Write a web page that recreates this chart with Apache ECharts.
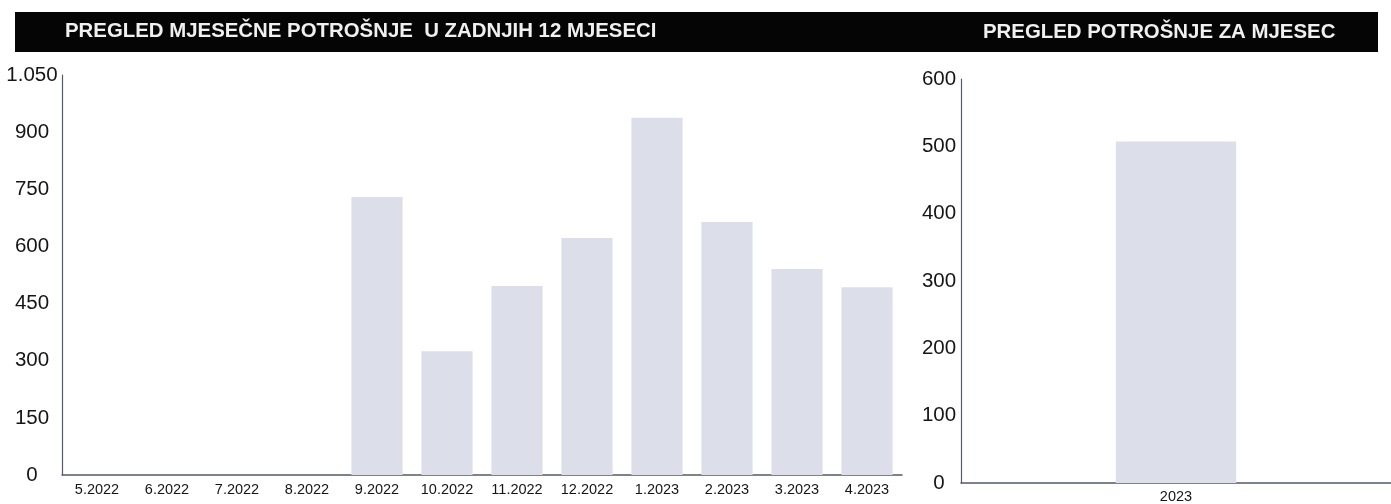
<!DOCTYPE html>
<html>
<head>
<meta charset="utf-8">
<script src="https://cdn.jsdelivr.net/npm/echarts@6/dist/echarts.min.js"></script>
<style>
html,body{margin:0;padding:0;background:#ffffff;}
#chart{width:1391px;height:504px;}
</style>
</head>
<body>
<div id="chart"></div>
<script>
var leftTitle = 'PREGLED MJESEČNE POTROŠNJE  U ZADNJIH 12 MJESECI';
var rightTitle = 'PREGLED POTROŠNJE ZA MJESEC';
var months = ['5.2022','6.2022','7.2022','8.2022','9.2022','10.2022','11.2022','12.2022','1.2023','2.2023','3.2023','4.2023'];
var monthlyValues = [0,0,0,0,730,325,496,622,938,664,541,493];
var periods = ['2023'];
var periodValues = [507];
var leftAxisMax = 1050, leftAxisStep = 150;
var rightAxisMax = 600, rightAxisStep = 100;

var FONT = '"Liberation Sans", Arial, sans-serif';
var barColor = '#dcdfea';
var axisColor = '#545a68';
var textColor = '#151515';

function thousands(v){
  return String(v).replace(/\B(?=(\d{3})+(?!\d))/g, '.');
}

var chart = echarts.init(document.getElementById('chart'), null, {renderer:'canvas'});
chart.setOption({
  backgroundColor: '#ffffff',
  animation: false,
  graphic: [
    {type:'rect', shape:{x:15, y:12, width:1363, height:40}, style:{fill:'#050505'}, z:0},
    {type:'text', left:65, top:21, style:{text:leftTitle, fill:'#f0f0f0', font:'bold 20.4px ' + FONT}, z:1},
    {type:'text', left:983, top:22, style:{text:rightTitle, fill:'#f0f0f0', font:'bold 20.4px ' + FONT}, z:1}
  ],
  grid: [
    {left:62, top:75, width:840, bottom:29, containLabel:false},
    {left:961, top:79, width:444, bottom:19, containLabel:false}
  ],
  xAxis: [
    {gridIndex:0, type:'category', data:months,
      axisLine:{show:true, lineStyle:{color:axisColor, width:1.5}},
      axisTick:{show:false},
      axisLabel:{color:textColor, fontFamily:FONT, fontSize:14.5, margin:7, interval:0}},
    {gridIndex:1, type:'category', data:periods,
      axisLine:{show:true, lineStyle:{color:axisColor, width:1.5}},
      axisTick:{show:false},
      axisLabel:{color:textColor, fontFamily:FONT, fontSize:14.5, margin:6}}
  ],
  yAxis: [
    {gridIndex:0, type:'value', min:0, max:leftAxisMax, interval:leftAxisStep,
      axisLine:{show:true, lineStyle:{color:axisColor, width:1.2}},
      axisTick:{show:false},
      splitLine:{show:false},
      axisLabel:{color:textColor, fontFamily:FONT, fontSize:20.5, margin:30, align:'center', formatter:thousands}},
    {gridIndex:1, type:'value', min:0, max:rightAxisMax, interval:rightAxisStep,
      axisLine:{show:true, lineStyle:{color:axisColor, width:1.2}},
      axisTick:{show:false},
      splitLine:{show:false},
      axisLabel:{color:textColor, fontFamily:FONT, fontSize:20.5, margin:22, align:'center', formatter:thousands}}
  ],
  series: [
    {type:'bar', xAxisIndex:0, yAxisIndex:0, data:monthlyValues, barCategoryGap:'27%',
      itemStyle:{color:barColor}},
    {type:'bar', xAxisIndex:1, yAxisIndex:1, data:periodValues, barCategoryGap:'72%',
      itemStyle:{color:barColor}}
  ]
});
</script>
</body>
</html>
